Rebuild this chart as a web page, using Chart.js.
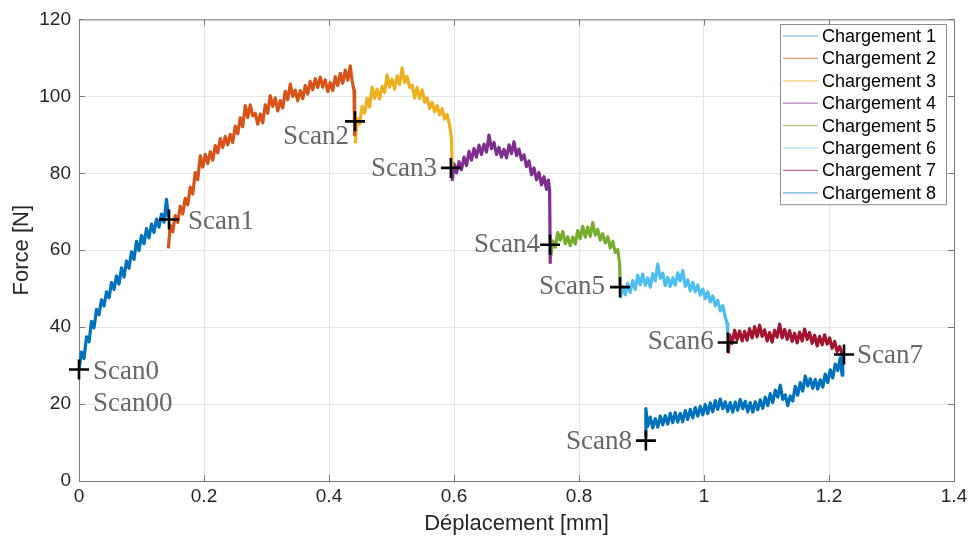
<!DOCTYPE html>
<html>
<head>
<meta charset="utf-8">
<script src="https://cdn.jsdelivr.net/npm/chart.js@4.4.1/dist/chart.umd.min.js"></script>
<style>
  html, body { margin: 0; padding: 0; background: #fff; }
  #wrap { width: 972px; height: 542px; }
</style>
</head>
<body>
<div id="wrap"><canvas id="forceChart" width="972" height="542"></canvas></div>
<script>
// Axes
const xTickLabels = ['0', '0.2', '0.4', '0.6', '0.8', '1', '1.2', '1.4'];
const yTickLabels = ['0', '20', '40', '60', '80', '100', '120'];

// Series names
const seriesNames = ['Chargement 1', 'Chargement 2', 'Chargement 3', 'Chargement 4',
                     'Chargement 5', 'Chargement 6', 'Chargement 7', 'Chargement 8'];

// Force vs displacement: [mm, N]
const load1 = [[0,29],[0.004,33.5],[0.008,31.8],[0.012,37.5],[0.016,36.2],[0.02,41.5],[0.024,39.8],[0.028,44.6],
  [0.032,43.2],[0.036,47.1],[0.04,45.5],[0.044,49.2],[0.048,47.6],[0.052,51.6],[0.056,49.8],[0.06,53.3],
  [0.064,51.2],[0.068,55.4],[0.072,53.0],[0.076,57.2],[0.08,55.3],[0.084,59.6],[0.088,57.6],[0.092,62.3],
  [0.096,59.9],[0.1,63.8],[0.104,61.7],[0.108,65.6],[0.112,63.2],[0.116,66.8],[0.12,64.6],[0.124,68.1],
  [0.128,66.0],[0.132,69.4],[0.136,67.3],[0.14,73.2],[0.143,68.5]];

const load2 = [[0.143,60.5],[0.146,66.5],[0.15,64.8],[0.154,69.0],[0.158,67.2],[0.162,71.4],[0.166,69.4],
  [0.17,73.5],[0.174,71.8],[0.178,76.4],[0.182,74.6],[0.186,80.2],[0.19,78.3],[0.194,84.5],[0.198,81.6],
  [0.202,84.9],[0.206,82.5],[0.21,85.6],[0.214,83.4],[0.218,87.2],[0.222,85.3],[0.226,89.0],[0.23,86.7],
  [0.234,89.6],[0.238,87.4],[0.242,90.1],[0.246,88.0],[0.25,92.2],[0.254,90.3],[0.258,94.4],[0.262,92.1],
  [0.266,97.6],[0.27,94.5],[0.274,97.8],[0.278,94.9],[0.282,95.6],[0.286,92.8],[0.29,95.4],[0.294,93.1],
  [0.298,97.8],[0.302,95.6],[0.306,100.2],[0.31,97.4],[0.314,99.6],[0.318,96.2],[0.322,98.9],[0.326,97.0],
  [0.33,101.3],[0.334,99.1],[0.338,103.2],[0.342,100.0],[0.346,101.6],[0.35,98.8],[0.354,101.5],[0.358,99.4],
  [0.362,102.8],[0.366,100.6],[0.37,103.9],[0.374,101.7],[0.378,104.6],[0.382,102.3],[0.386,105.0],[0.39,102.4],
  [0.394,104.3],[0.398,101.2],[0.402,103.6],[0.406,101.5],[0.41,105.1],[0.414,102.8],[0.418,106.0],[0.422,103.4],
  [0.426,106.8],[0.43,104.2],[0.434,107.9],[0.437,104.0],[0.44,101.5],[0.441,90.0]];

const load3 = [[0.442,87.8],[0.445,94.2],[0.449,92.8],[0.453,97.4],[0.457,95.6],[0.461,99.5],[0.465,97.2],
  [0.469,102.4],[0.473,99.5],[0.477,101.9],[0.481,99.3],[0.485,102.6],[0.489,101.0],[0.493,105.6],[0.497,102.4],
  [0.501,104.5],[0.505,101.9],[0.509,105.3],[0.513,103.1],[0.517,107.4],[0.521,103.6],[0.525,105.2],[0.529,102.3],
  [0.533,102.9],[0.537,99.6],[0.541,102.3],[0.545,99.4],[0.549,101.7],[0.553,98.5],[0.557,99.6],[0.561,96.8],
  [0.565,98.4],[0.569,96.0],[0.573,97.6],[0.577,95.2],[0.581,96.8],[0.585,94.1],[0.589,95.3],[0.593,92.5],
  [0.596,89.0],[0.597,81.0]];

const load4 = [[0.597,78.0],[0.6,82.4],[0.604,80.1],[0.608,83.0],[0.612,80.9],[0.616,84.2],[0.62,82.0],
  [0.624,85.7],[0.628,83.4],[0.632,86.4],[0.636,84.2],[0.64,87.3],[0.644,84.9],[0.648,87.6],[0.652,85.5],
  [0.656,89.9],[0.66,86.4],[0.664,88.0],[0.668,84.9],[0.672,86.7],[0.676,84.2],[0.68,86.2],[0.684,84.0],
  [0.688,87.4],[0.692,85.1],[0.696,88.2],[0.7,84.6],[0.704,86.3],[0.708,83.5],[0.712,84.8],[0.716,81.7],
  [0.72,83.2],[0.724,79.6],[0.728,81.4],[0.732,78.3],[0.736,80.2],[0.74,77.0],[0.744,79.1],[0.748,75.8],
  [0.751,78.2],[0.753,75.5],[0.754,56.5]];

const load5 = [[0.755,58.5],[0.758,62.4],[0.762,60.8],[0.766,64.6],[0.77,62.6],[0.774,64.9],[0.778,61.7],
  [0.782,63.5],[0.786,61.2],[0.79,63.4],[0.794,61.6],[0.798,65.1],[0.802,63.0],[0.806,66.2],[0.81,63.4],
  [0.814,66.0],[0.818,63.6],[0.822,67.2],[0.826,63.9],[0.83,65.4],[0.834,62.6],[0.838,64.3],[0.842,61.9],
  [0.846,63.5],[0.85,60.6],[0.854,62.3],[0.858,59.4],[0.862,60.2],[0.865,56.4],[0.866,50.5]];

const load6 = [[0.866,47.5],[0.87,50.6],[0.874,48.4],[0.878,51.3],[0.882,49.0],[0.886,52.1],[0.89,49.8],
  [0.894,53.5],[0.898,51.0],[0.902,53.8],[0.906,50.9],[0.91,52.8],[0.914,50.4],[0.918,53.9],[0.922,52.0],
  [0.926,56.4],[0.93,52.7],[0.934,54.0],[0.938,50.8],[0.942,52.9],[0.946,50.6],[0.95,52.8],[0.954,50.9],
  [0.958,54.1],[0.962,52.0],[0.966,54.7],[0.97,50.6],[0.974,52.3],[0.978,49.4],[0.982,51.6],[0.986,49.2],
  [0.99,51.0],[0.994,48.3],[0.998,49.9],[1.002,47.4],[1.006,49.2],[1.01,46.6],[1.014,48.1],[1.018,45.5],
  [1.022,47.0],[1.026,44.2],[1.03,45.6],[1.034,42.6],[1.037,41.0],[1.038,38.5]];

const load7 = [[1.039,33.2],[1.041,38.0],[1.045,35.8],[1.049,39.2],[1.053,36.7],[1.057,39.0],[1.061,36.4],
  [1.065,38.9],[1.069,36.6],[1.073,39.6],[1.077,37.2],[1.081,40.1],[1.085,37.5],[1.089,40.5],[1.093,37.6],
  [1.097,39.3],[1.101,36.4],[1.105,38.6],[1.109,36.1],[1.113,39.2],[1.117,37.4],[1.121,40.8],[1.125,37.2],
  [1.129,39.4],[1.133,36.8],[1.137,39.1],[1.141,36.3],[1.145,38.4],[1.149,35.9],[1.153,38.7],[1.157,36.4],
  [1.161,39.5],[1.165,36.8],[1.169,38.6],[1.173,35.8],[1.177,37.9],[1.181,35.1],[1.185,37.6],[1.189,35.4],
  [1.193,38.0],[1.197,35.6],[1.201,37.2],[1.205,34.5],[1.209,36.3],[1.213,33.6],[1.217,35.0],[1.221,33.0]];

const load8 = [[0.906,11.5],[0.907,18.8],[0.91,14.2],[0.914,16.6],[0.918,13.8],[0.922,16.2],[0.926,14.0],
  [0.93,16.9],[0.934,14.6],[0.938,17.0],[0.942,14.8],[0.946,17.6],[0.95,15.2],[0.954,17.8],[0.958,15.3],
  [0.962,17.6],[0.966,15.4],[0.97,18.3],[0.974,16.0],[0.978,18.6],[0.982,16.4],[0.986,19.1],[0.99,16.9],
  [0.994,19.4],[0.998,17.2],[1.002,19.9],[1.006,17.5],[1.01,20.3],[1.014,18.0],[1.018,20.9],[1.022,18.6],
  [1.026,21.3],[1.03,18.8],[1.034,20.6],[1.038,18.1],[1.042,20.4],[1.046,17.9],[1.05,20.5],[1.054,18.4],
  [1.058,21.2],[1.062,18.8],[1.066,20.7],[1.07,18.0],[1.074,20.4],[1.078,17.9],[1.082,20.6],[1.086,18.5],
  [1.09,21.1],[1.094,18.9],[1.098,21.8],[1.102,19.6],[1.106,22.7],[1.11,20.4],[1.114,23.6],[1.118,21.8],
  [1.122,24.9],[1.126,21.2],[1.13,22.4],[1.134,19.6],[1.138,22.1],[1.142,20.8],[1.146,24.6],[1.15,22.3],
  [1.154,25.6],[1.158,23.4],[1.162,27.3],[1.166,24.7],[1.17,26.6],[1.174,24.1],[1.178,26.4],[1.182,23.9],
  [1.186,26.3],[1.19,24.4],[1.194,27.8],[1.198,25.6],[1.202,28.9],[1.206,26.8],[1.21,30.4],[1.214,28.7],
  [1.218,32.0],[1.221,27.5],[1.222,33.0]];

// Scan points
const scanNames = ['Scan0', 'Scan1', 'Scan2', 'Scan3', 'Scan4', 'Scan5', 'Scan6', 'Scan7', 'Scan8'];
const scanX = [0, 0.144, 0.4416, 0.595, 0.7536, 0.8656, 1.038, 1.224, 0.907];
const scanY = [29, 68, 93.5, 81.4, 61.4, 50.4, 36, 32.9, 10.5];
// extra note without a marker
const noteNames = ['Scan00'];
const noteX = [0];
const noteY = [20];

const loads = [load1, load2, load3, load4, load5, load6, load7, load8];

// styles
const colors = ['#0072BD', '#D95319', '#EDB120', '#7E2F8E', '#77AC30', '#4DBEEE', '#A2142F', '#0072BD'];
// [dx px, dy px, align] for each scan label
const labelPlace = {
  Scan0: [14, 2, 'left'], Scan1: [19, 2, 'left'], Scan2: [-6, 16, 'right'], Scan3: [-14, 1, 'right'],
  Scan4: [-10, 0, 'right'], Scan5: [-15, 0, 'right'], Scan6: [-14, -1, 'right'], Scan7: [13, 1, 'left'],
  Scan8: [-14, 1, 'right'], Scan00: [14, 0, 'left']
};

const datasets = loads.map((pts, i) => ({
  label: seriesNames[i],
  data: pts.map(p => ({ x: p[0], y: p[1] })),
  showLine: true,
  borderColor: colors[i],
  borderWidth: 3.2,
  borderJoinStyle: 'round',
  pointRadius: 0,
  tension: 0
}));
datasets.push({
  label: 'scans',
  data: scanX.map((x, i) => ({ x: x, y: scanY[i] })),
  showLine: false,
  pointStyle: 'cross',
  pointRadius: 10,
  pointBorderWidth: 2.6,
  pointBorderColor: '#000',
  clip: false,
  order: -1
});

const frame = {
  id: 'frame',
  beforeDatasetsDraw(chart) {
    const { ctx, chartArea: a, scales } = chart;
    ctx.save();
    ctx.strokeStyle = '#7a7a7a';
    ctx.lineWidth = 1;
    ctx.strokeRect(a.left + 0.5, a.top + 0.5, a.right - a.left, a.bottom - a.top);
    // inward ticks
    ctx.beginPath();
    scales.x.ticks.forEach(t => {
      const px = Math.round(scales.x.getPixelForValue(t.value)) + 0.5;
      ctx.moveTo(px, a.bottom); ctx.lineTo(px, a.bottom - 6);
      ctx.moveTo(px, a.top); ctx.lineTo(px, a.top + 6);
    });
    scales.y.ticks.forEach(t => {
      const py = Math.round(scales.y.getPixelForValue(t.value)) + 0.5;
      ctx.moveTo(a.left, py); ctx.lineTo(a.left + 6, py);
      ctx.moveTo(a.right, py); ctx.lineTo(a.right - 6, py);
    });
    ctx.stroke();
    ctx.restore();
  },
  afterDraw(chart) {
    const { ctx } = chart;
    ctx.save();
    // legend box
    const bx = 780, by = 24, bw = 166, rowH = 22.4, bh = rowH * seriesNames.length + 1;
    ctx.fillStyle = '#fff';
    ctx.fillRect(bx, by, bw, bh);
    ctx.strokeStyle = '#8c8c8c';
    ctx.lineWidth = 1;
    ctx.strokeRect(bx + 0.5, by + 0.5, bw, bh);
    ctx.font = '18px "Liberation Sans", Arial, sans-serif';
    ctx.textBaseline = 'middle';
    ctx.textAlign = 'left';
    seriesNames.forEach((name, i) => {
      const cy = by + 12 + i * rowH;
      ctx.strokeStyle = colors[i];
      ctx.globalAlpha = 0.6;
      ctx.lineWidth = 1.2;
      ctx.beginPath();
      ctx.moveTo(bx + 3, cy); ctx.lineTo(bx + 38, cy);
      ctx.stroke();
      ctx.globalAlpha = 1;
      ctx.fillStyle = '#000';
      ctx.fillText(name, bx + 42, cy + 1);
    });
    ctx.restore();
  }
};

const scanText = {
  id: 'scanText',
  afterDatasetsDraw(chart) {
    const { ctx, scales } = chart;
    ctx.save();
    ctx.font = '27px "Liberation Serif", "DejaVu Serif", serif';
    ctx.fillStyle = '#666666';
    ctx.textBaseline = 'middle';
    const put = (name, x, y) => {
      const pl = labelPlace[name];
      ctx.textAlign = pl[2];
      ctx.fillText(name, scales.x.getPixelForValue(x) + pl[0], scales.y.getPixelForValue(y) + pl[1]);
    };
    scanNames.forEach((n, i) => put(n, scanX[i], scanY[i]));
    noteNames.forEach((n, i) => put(n, noteX[i], noteY[i]));
    ctx.restore();
  }
};

const ctx = document.getElementById('forceChart').getContext('2d');
const forceChart = new Chart(ctx, {
  type: 'scatter',
  data: { datasets: datasets },
  options: {
    responsive: false,
    animation: false,
    layout: { padding: { left: 0, top: 14, right: 18, bottom: 0 } },
    plugins: {
      legend: { display: false },
      tooltip: { enabled: false }
    },
    scales: {
      x: {
        type: 'linear',
        min: 0, max: 1.4,
        afterFit: s => { s.height = 61; },
        ticks: {
          stepSize: 0.2,
          color: '#262626',
          font: { family: '"Liberation Sans", Arial, sans-serif', size: 19 },
          padding: 4,
          callback: (v, i) => xTickLabels[i]
        },
        grid: { color: '#e6e6e6', drawTicks: false },
        border: { display: false },
        title: {
          display: true,
          text: 'Déplacement [mm]',
          color: '#262626',
          font: { family: '"Liberation Sans", Arial, sans-serif', size: 22 },
          padding: { top: 0, bottom: 5 }
        }
      },
      y: {
        min: 0, max: 120,
        afterFit: s => { s.width = 79; },
        ticks: {
          stepSize: 20,
          color: '#262626',
          font: { family: '"Liberation Sans", Arial, sans-serif', size: 19 },
          padding: 8,
          callback: (v, i) => yTickLabels[i]
        },
        grid: { color: '#e6e6e6', drawTicks: false },
        border: { display: false },
        title: {
          display: true,
          text: 'Force [N]',
          color: '#262626',
          font: { family: '"Liberation Sans", Arial, sans-serif', size: 22 },
          padding: { top: 9, bottom: 0 }
        }
      }
    }
  },
  plugins: [frame, scanText]
});
</script>
</body>
</html>
